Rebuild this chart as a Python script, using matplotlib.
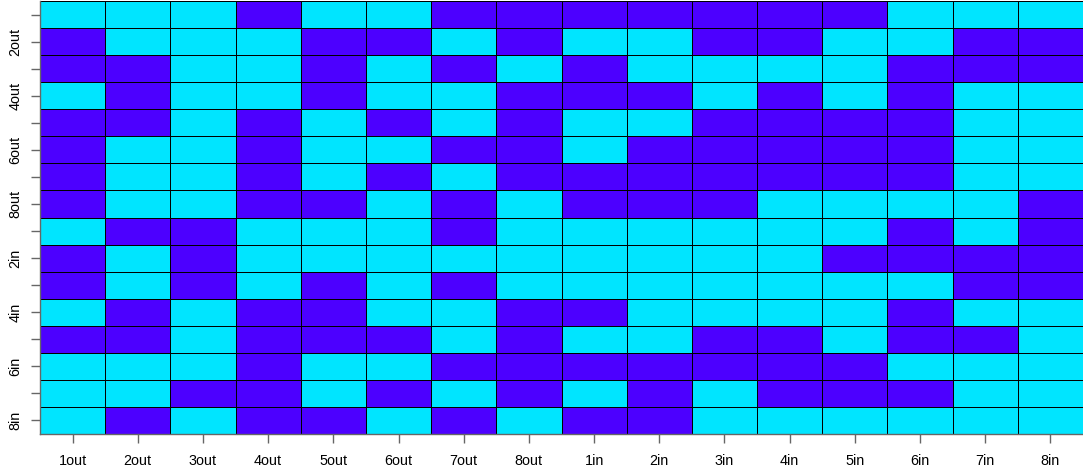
import numpy as np
import matplotlib
matplotlib.use("Agg")
import matplotlib.pyplot as plt
from matplotlib.colors import ListedColormap

labels = ["1out", "2out", "3out", "4out", "5out", "6out", "7out", "8out",
          "1in", "2in", "3in", "4in", "5in", "6in", "7in", "8in"]
y_shown = ["", "2out", "", "4out", "", "6out", "", "8out",
           "", "2in", "", "4in", "", "6in", "", "8in"]

# C = 1 (cyan), P = 0 (purple)
rows_txt = [
    "CCCPCCPPPPPPPCCC",
    "PCCCPPCPCCPPCCPP",
    "PPCCPCPCPCCCCPPP",
    "CPCCPCCPPPCPCPCC",
    "PPCPCPCPCCPPPPCC",
    "PCCPCCPPCPPPPPCC",
    "PCCPCPCPPPPPPPCC",
    "PCCPPCPCPPPCCCCP",
    "CPPCCCPCCCCCCPCP",
    "PCPCCCCCCCCCPPPP",
    "PCPCPCPCCCCCCCPP",
    "CPCPPCCPPCCCCPCC",
    "PPCPPPCPCCPPCPPC",
    "CCCPCCPPPPPPPCCC",
    "CCPPCPCPCPCPPPCC",
    "CPCPPCPCPPCCCCCC",
]
values = np.array([[1 if ch == "C" else 0 for ch in r] for r in rows_txt])

colors = ["#4C00FF", "#00E5FF"]

plt.rcParams['font.family'] = ['Liberation Sans', 'DejaVu Sans']
fig = plt.figure(figsize=(10.83, 4.72), dpi=100)
ax = fig.add_axes([40/1083, (472-434)/472, (1083-40)/1083, (434-1)/472])

n = len(labels)
ax.pcolormesh(np.arange(n+1), np.arange(n+1), values,
              cmap=ListedColormap(colors), vmin=0, vmax=1,
              edgecolors="black", linewidth=0.6)
ax.set_xlim(0, n)
ax.set_ylim(n, 0)

ax.set_xticks(np.arange(n) + 0.5)
ax.set_xticklabels(labels, fontsize=10.4)
ax.set_yticks(np.arange(n) + 0.5)
ax.set_yticklabels(y_shown, fontsize=10.4, rotation=90, va="center")

for s in ["top", "right"]:
    ax.spines[s].set_visible(False)
for s in ["left", "bottom"]:
    ax.spines[s].set_color("#666666")
    ax.spines[s].set_linewidth(1.0)
ax.tick_params(axis="both", direction="out", length=6.5, width=1, color="#666666")
ax.tick_params(axis="x", pad=8)
ax.tick_params(axis="y", pad=6)

fig.savefig("out.png", dpi=100)
